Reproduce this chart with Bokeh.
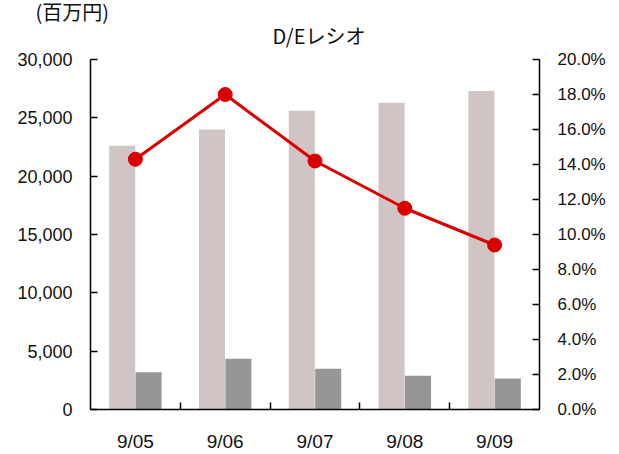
from bokeh.plotting import figure
from bokeh.models import (LinearAxis, Range1d, FixedTicker, NumeralTickFormatter,
                          Title, ColumnDataSource)
from bokeh.transform import dodge
from bokeh.embed import file_html
from bokeh.resources import INLINE

categories = ["9/05", "9/06", "9/07", "9/08", "9/09"]
equity = [22600, 24000, 25600, 26300, 27300]      # 百万円
debt = [3200, 4350, 3500, 2900, 2650]             # 百万円
de_ratio = [0.143, 0.180, 0.142, 0.115, 0.094]    # D/E
left_ticks = [0, 5000, 10000, 15000, 20000, 25000, 30000]
right_ticks = [0.0, 0.02, 0.04, 0.06, 0.08, 0.10, 0.12, 0.14, 0.16, 0.18, 0.20]

xc = [i + 0.5 for i in range(len(categories))]
src = ColumnDataSource(dict(x=xc, equity=equity, debt=debt, de=de_ratio))

NUM_FONT = "Liberation Sans"
JP_FONT = "Noto Sans CJK JP"
TXT = "#111111"

p = figure(width=619, height=454, output_backend="svg", toolbar_location=None,
           x_range=Range1d(0, 5), y_range=Range1d(0, 30000),
           min_border_left=90, min_border_right=80, min_border_top=59,
           min_border_bottom=43, x_axis_type=None, y_axis_type=None)
p.title = None
p.outline_line_color = None
p.background_fill_color = "white"
p.border_fill_color = "white"

p.extra_y_ranges = {"pct": Range1d(0, 0.20)}

yl = LinearAxis(ticker=FixedTicker(ticks=left_ticks),
                formatter=NumeralTickFormatter(format="0,0"))
yr = LinearAxis(y_range_name="pct", ticker=FixedTicker(ticks=right_ticks),
                formatter=NumeralTickFormatter(format="0.0%"))
xa = LinearAxis(ticker=FixedTicker(ticks=xc, minor_ticks=[1, 2, 3, 4]),
                major_label_overrides={v: c for v, c in zip(xc, categories)})

for ax in (yl, yr, xa):
    ax.axis_line_color = "black"
    ax.axis_line_width = 1.5
    ax.major_tick_line_color = "black"
    ax.major_tick_line_width = 1.5
    ax.major_tick_in = 7
    ax.major_tick_out = 0
    ax.minor_tick_line_color = None
    ax.major_label_text_font = NUM_FONT
    ax.major_label_text_font_size = "18px"
    ax.major_label_text_color = TXT

yr.major_label_text_font_size = "17px"
yl.major_label_standoff = 18
yr.major_label_standoff = 18
xa.major_label_text_font_size = "19px"
xa.major_tick_line_color = None
xa.minor_tick_line_color = "black"
xa.minor_tick_line_width = 1.5
xa.minor_tick_in = 7
xa.minor_tick_out = 0
xa.major_label_standoff = 21

p.add_layout(yl, "left")
p.add_layout(yr, "right")
p.add_layout(xa, "below")

p.ygrid.ticker = FixedTicker(ticks=left_ticks)
p.ygrid.grid_line_color = "#C0C0C0"
p.ygrid.grid_line_width = 2
p.xgrid.grid_line_color = None

bw = 0.29
p.vbar(x=dodge("x", -0.147), top="equity", width=bw, source=src,
       fill_color="#D0C4C4", line_color=None)
p.vbar(x=dodge("x", 0.147), top="debt", width=bw, source=src,
       fill_color="#969696", line_color=None)
p.line(x="x", y="de", source=src, y_range_name="pct", line_color="#DA0000",
       line_width=3)
p.scatter(x="x", y="de", source=src, y_range_name="pct", size=14,
          fill_color="#DA0000", line_color="#DA0000")

p.add_layout(Title(text="D/Eレシオ", align="left", offset=182,
                   text_font=JP_FONT, text_font_size="20px", text_color=TXT,
                   text_font_style="normal", standoff=19), "above")
p.add_layout(Title(text="(百万円)", align="left", offset=-55,
                   text_font=JP_FONT, text_font_size="20px", text_color=TXT,
                   text_font_style="normal", standoff=-32), "above")

open("out.html", "w").write(file_html(p, INLINE))
